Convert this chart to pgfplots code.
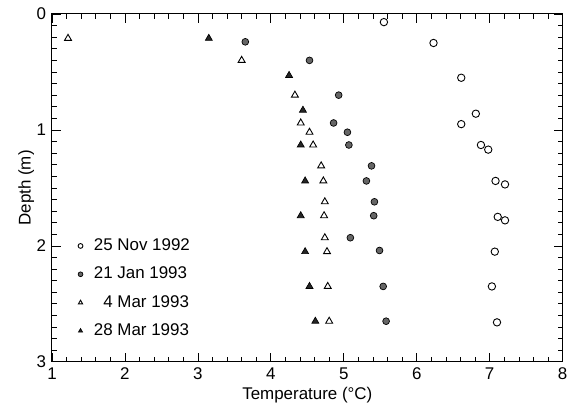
\documentclass[border=0pt]{standalone}
\usepackage{fontspec}
\setmainfont{Liberation Sans}
\usepackage{pgfplots}
\pgfplotsset{compat=1.18}

% temperature (C) against depth (m)
\pgfplotstableread{
t d
5.55 0.07
6.23 0.25
6.61 0.55
6.81 0.86
6.61 0.95
6.88 1.13
6.98 1.17
7.08 1.44
7.21 1.47
7.11 1.75
7.21 1.78
7.07 2.05
7.03 2.35
7.10 2.66
}\nov
\pgfplotstableread{
t d
3.65 0.24
4.53 0.40
4.93 0.70
4.86 0.94
5.05 1.02
5.07 1.13
5.38 1.31
5.31 1.44
5.42 1.62
5.41 1.74
5.09 1.93
5.49 2.04
5.54 2.35
5.58 2.65
}\jan
\pgfplotstableread{
t d
1.22 0.21
3.60 0.40
4.33 0.70
4.41 0.94
4.53 1.02
4.58 1.13
4.69 1.31
4.72 1.44
4.74 1.62
4.73 1.74
4.74 1.93
4.77 2.05
4.78 2.35
4.80 2.65
}\mar
\pgfplotstableread{
t d
3.15 0.21
4.25 0.53
4.44 0.83
4.41 1.13
4.47 1.44
4.41 1.74
4.47 2.05
4.53 2.35
4.61 2.65
}\marb

\begin{document}
\fontsize{17}{20}\selectfont
\begin{tikzpicture}
\begin{axis}[
  scale only axis, width=511bp, height=348bp,
  xmin=1, xmax=8, ymin=0, ymax=3, y dir=reverse,
  xtick={1,...,8}, ytick={0,1,2,3},
  minor x tick num=4, minor y tick num=9,
  tick align=inside, xtick pos=both, ytick pos=both,
  xticklabel pos=bottom, yticklabel pos=left,
  major tick length=9bp, minor tick length=5bp,
  tick style={black, line width=0.7pt},
  axis line style={line width=1pt},
  /pgf/number format/assume math mode=true,
  tick label style={font=\fontsize{17}{20}\selectfont},
  label style={font=\fontsize{17}{20}\selectfont},
  xlabel={Temperature (°C)}, ylabel={Depth (m)},
  xlabel style={yshift=4bp},
  ylabel style={yshift=-9bp},
  legend cell align=left,
  legend style={draw=none, fill=none, at={(0.045,0.056)}, anchor=south west,
    row sep=10bp, font=\fontsize{17}{20}\selectfont,
    /tikz/every odd column/.append style={column sep=9bp}},
  legend image post style={mark size=2.4bp},
]
\addplot[only marks, mark=o, mark size=3.7bp, line width=0.9pt, black] table {\nov};
\addlegendentry{25 Nov 1992}
\addplot[only marks, mark=*, mark size=3.4bp, draw=black, fill=black!60, line width=0.7pt] table {\jan};
\addlegendentry{21 Jan 1993}
\addplot[only marks, mark=triangle, mark size=4bp, line width=0.9pt, black] table {\mar};
\addlegendentry{\phantom{2}4 Mar 1993}
\addplot[only marks, mark=triangle*, mark size=4bp, draw=black, fill=black!85, line width=0.7pt] table {\marb};
\addlegendentry{28 Mar 1993}
\end{axis}
% page frame to match the reference margins
\path ([shift={(-52bp,-46bp)}]current axis.south west) rectangle ([shift={(10bp,14bp)}]current axis.north east);
\end{tikzpicture}
\end{document}
